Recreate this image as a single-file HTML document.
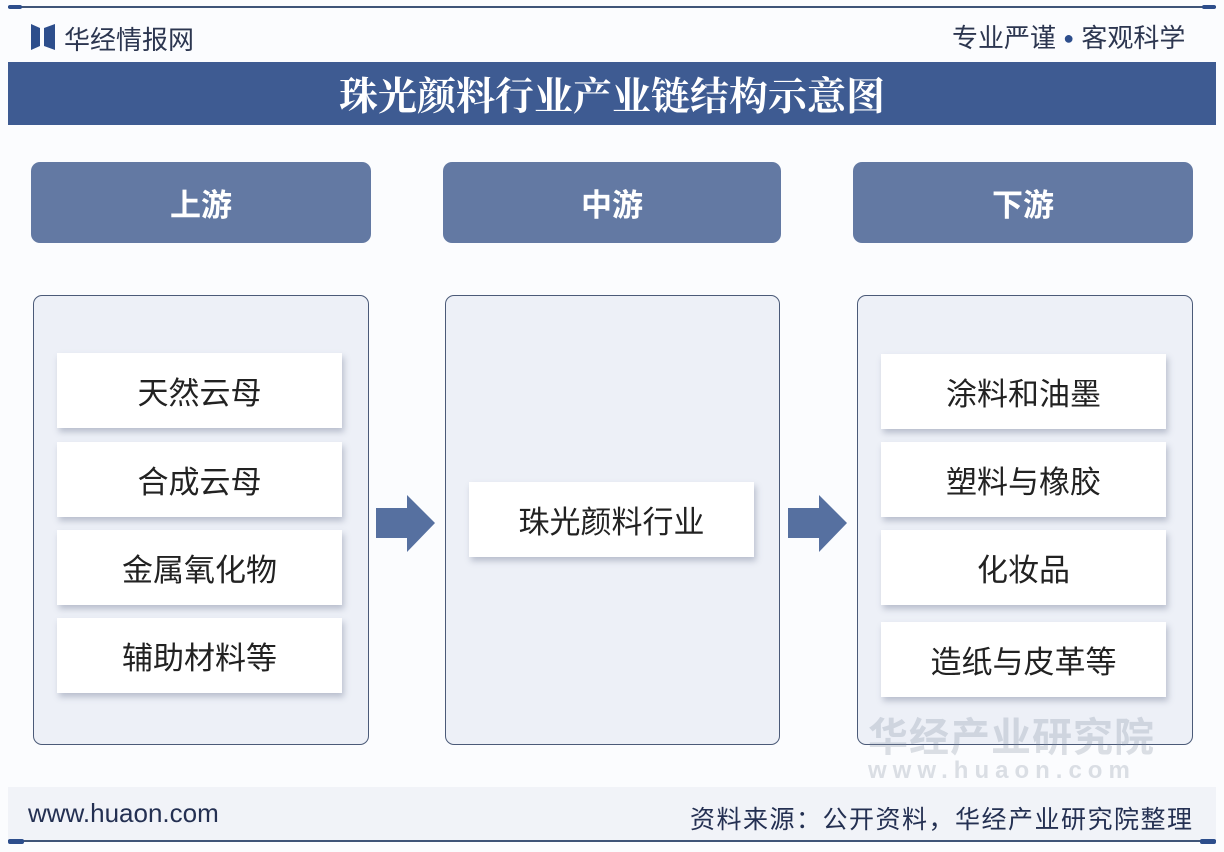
<!DOCTYPE html>
<html><head><meta charset="utf-8"><style>
*{margin:0;padding:0;box-sizing:border-box}
body{width:1224px;height:852px;background:#fbfcfe;position:relative;overflow:hidden;font-family:"Liberation Sans","Noto Sans CJK SC",sans-serif}
.abs{position:absolute}
.hdr{background:#6379a3;border-radius:9px;color:#fff;font-weight:bold;font-size:31px;display:flex;align-items:center;justify-content:center;top:162px;height:81px;width:340px}
.panel{border:1.5px solid #4b5a78;border-radius:9px;background:#edf0f7;top:295px;height:450px;width:336px}
.item{background:#fff;box-shadow:2px 4px 6px rgba(90,100,130,.35);color:#222;font-size:31px;display:flex;align-items:center;justify-content:center;width:285px;height:75px}
</style></head><body>
<div class="abs" style="left:8px;top:6px;width:1208px;height:2px;background:#3f5478"></div>
<div class="abs" style="left:8px;top:5px;width:14px;height:4px;background:#2d4e8c;border-radius:2px"></div>
<div class="abs" style="left:1202px;top:5px;width:14px;height:4px;background:#2d4e8c;border-radius:2px"></div>
<svg class="abs" style="left:31px;top:24px" width="24" height="26"><polygon points="0,0 9,4 9,22 0,26" fill="#2d4e8c"/><polygon points="24,0 13,4 13,22 24,26" fill="#2d4e8c"/></svg>
<div class="abs" style="left:64px;top:20px;font-size:26px;color:#2c3650">华经情报网</div>
<div class="abs" style="left:952px;top:18px;font-size:26px;color:#2c3650;letter-spacing:0px">专业严谨 <span style="color:#2d4e8c;font-size:18px;vertical-align:3px">●</span> 客观科学</div>
<div class="abs" style="left:8px;top:62px;width:1208px;height:63px;background:#3e5b92;color:#fff;font-weight:bold;font-size:39px;display:flex;align-items:center;justify-content:center;font-family:'Liberation Serif','Noto Serif CJK SC',serif">珠光颜料行业产业链结构示意图</div>

<div class="abs hdr" style="left:31px">上游</div>
<div class="abs hdr" style="left:443px;width:338px">中游</div>
<div class="abs hdr" style="left:853px">下游</div>

<div class="abs panel" style="left:33px"></div>
<div class="abs panel" style="left:445px;width:335px"></div>
<div class="abs panel" style="left:857px"></div>

<div class="abs item" style="left:57px;top:353px">天然云母</div>
<div class="abs item" style="left:57px;top:442px">合成云母</div>
<div class="abs item" style="left:57px;top:530px">金属氧化物</div>
<div class="abs item" style="left:57px;top:618px">辅助材料等</div>

<div class="abs item" style="left:469px;top:482px">珠光颜料行业</div>

<div class="abs item" style="left:881px;top:354px">涂料和油墨</div>
<div class="abs item" style="left:881px;top:442px">塑料与橡胶</div>
<div class="abs item" style="left:881px;top:530px">化妆品</div>
<div class="abs item" style="left:881px;top:622px">造纸与皮革等</div>

<svg class="abs" style="left:376px;top:495px" width="60" height="58"><polygon points="0,13 31,13 31,0 59,28 31,57 31,43 0,43" fill="#5670a0"/></svg>
<svg class="abs" style="left:788px;top:495px" width="60" height="58"><polygon points="0,13 31,13 31,0 59,28 31,57 31,43 0,43" fill="#5670a0"/></svg>

<div class="abs" style="left:868px;top:705px;font-size:40px;color:rgba(120,130,150,.25);font-weight:bold;letter-spacing:1px">华经产业研究院</div>
<div class="abs" style="left:868px;top:757px;font-size:24px;color:rgba(120,130,150,.25);font-weight:bold;letter-spacing:6px">www.huaon.com</div>

<div class="abs" style="left:8px;top:787px;width:1208px;height:53px;background:#f1f3f8"></div>
<div class="abs" style="left:28px;top:798px;font-size:26px;color:#243052">www.huaon.com</div>
<div class="abs" style="left:690px;top:800px;font-size:25px;color:#243052;letter-spacing:1.5px">资料来源：公开资料，华经产业研究院整理</div>
<div class="abs" style="left:8px;top:840px;width:1208px;height:2px;background:#3f5478"></div>
<div class="abs" style="left:8px;top:839px;width:16px;height:5px;background:#2d4e8c;border-radius:2px"></div>
<div class="abs" style="left:1200px;top:839px;width:16px;height:5px;background:#2d4e8c;border-radius:2px"></div>
</body></html>
